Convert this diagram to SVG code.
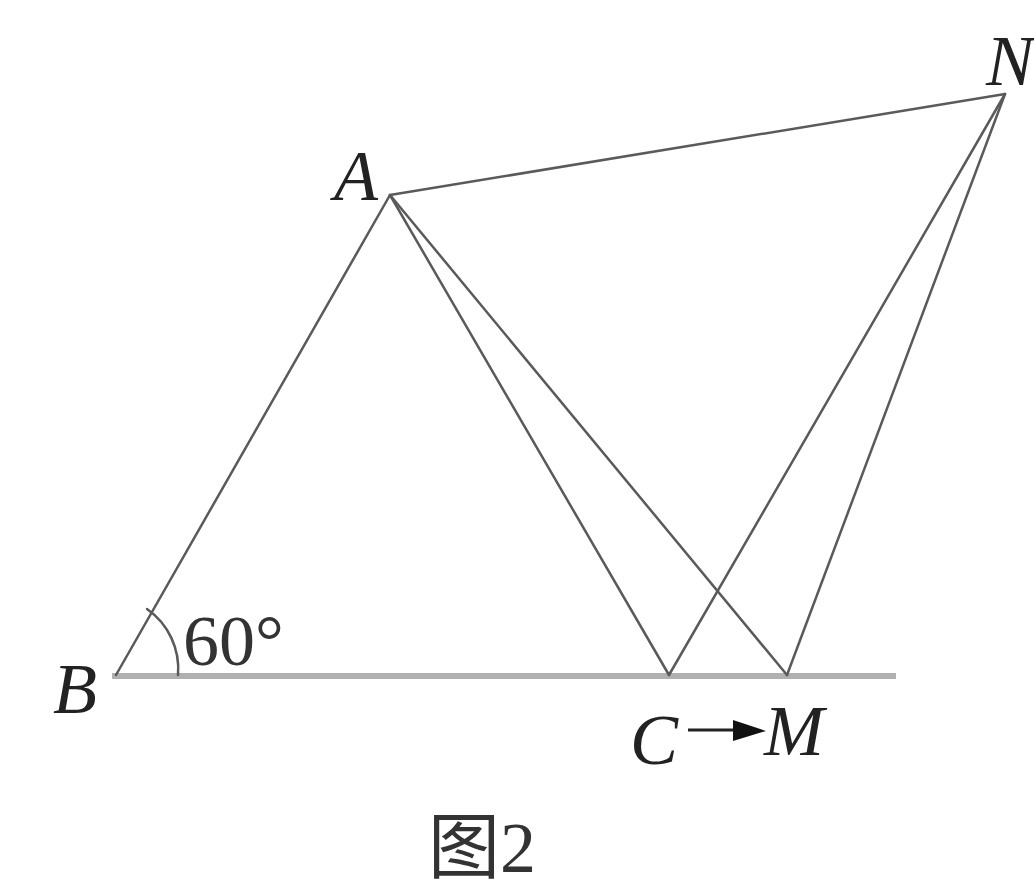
<svg xmlns="http://www.w3.org/2000/svg" width="1034" height="890" viewBox="0 0 1034 890">
<style>
.ln{stroke:#5a5a5a;stroke-width:2.5;fill:none;stroke-linecap:round}
.lbl{font-family:"Liberation Serif",serif;font-style:italic;font-size:72px;fill:#222}
.txt{font-family:"Liberation Serif","Noto Sans CJK SC",serif;font-size:72px;fill:#333}
</style>
<rect width="1034" height="890" fill="#fff"/>
<g id="connectors">
<line x1="112" y1="676" x2="896" y2="676" stroke="#b0b0b0" stroke-width="6"/>
<line class="ln" x1="116" y1="675" x2="390" y2="195"/>
<line class="ln" x1="390" y1="195" x2="1005" y2="94"/>
<line class="ln" x1="390" y1="195" x2="669" y2="675"/>
<line class="ln" x1="390" y1="195" x2="787" y2="675"/>
<line class="ln" x1="1005" y1="94" x2="669" y2="675"/>
<line class="ln" x1="1005" y1="94" x2="787" y2="675"/>
<path class="ln" d="M147,609 A73,73 0 0 1 178,675"/>
</g>
<g id="A"><text class="lbl" x="334" y="200">A</text></g>
<g id="B"><text class="lbl" x="53" y="713">B</text></g>
<g id="C"><text class="lbl" x="630" y="764">C</text></g>
<g id="M"><text class="lbl" x="764" y="755">M</text></g>
<g id="N"><text class="lbl" x="986" y="85" font-size="66">N</text></g>
<g id="angle"><text class="txt" x="183" y="665">60°</text></g>
<g id="arrow">
<line x1="688" y1="730" x2="740" y2="730" stroke="#222" stroke-width="3"/>
<polygon points="733,720 766,731 733,741" fill="#111"/>
</g>
<g id="caption"><text class="txt" x="428" y="872" font-size="64">图2</text></g>
</svg>
